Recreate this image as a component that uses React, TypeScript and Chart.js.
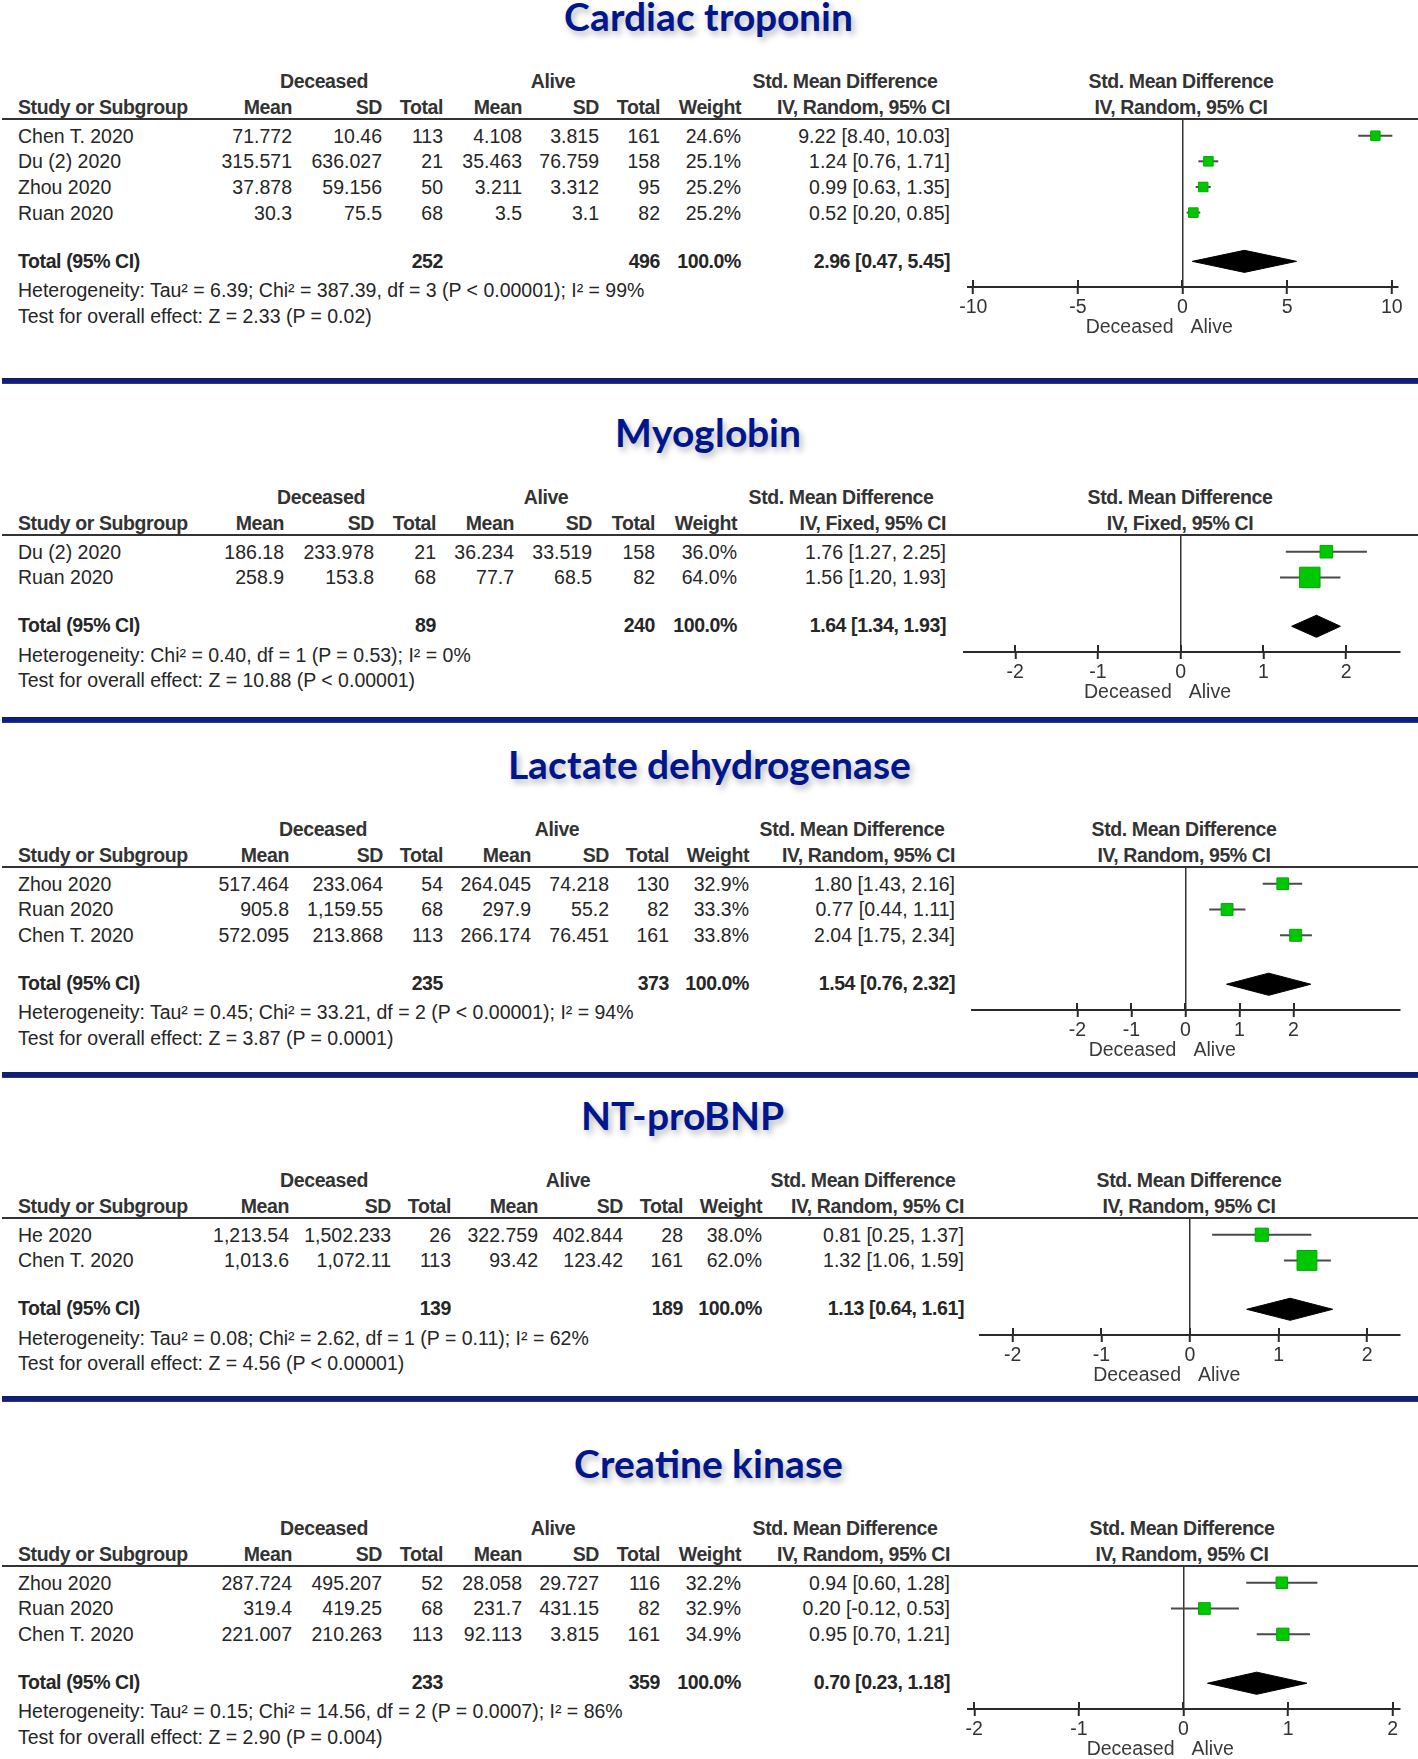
import React, { useEffect, useRef } from "react";
import { Chart, registerables } from "chart.js";

Chart.register(...registerables);

if (typeof document !== "undefined") {
  document.body.style.margin = "0";
  document.body.style.background = "#ffffff";
}

// ======================= DATA =======================
// Cardiac troponin
const CT_STUDY = ["Chen T. 2020", "Du (2) 2020", "Zhou 2020", "Ruan 2020"];
const CT_DEC_MEAN = ["71.772", "315.571", "37.878", "30.3"];
const CT_DEC_SD = ["10.46", "636.027", "59.156", "75.5"];
const CT_DEC_N = [113, 21, 50, 68];
const CT_ALV_MEAN = ["4.108", "35.463", "3.211", "3.5"];
const CT_ALV_SD = ["3.815", "76.759", "3.312", "3.1"];
const CT_ALV_N = [161, 158, 95, 82];
const CT_WEIGHT = [24.6, 25.1, 25.2, 25.2];
const CT_SMD = [9.22, 1.24, 0.99, 0.52];
const CT_LO = [8.4, 0.76, 0.63, 0.2];
const CT_HI = [10.03, 1.71, 1.35, 0.85];
const CT_TOTAL = [2.96, 0.47, 5.45];
const CT_TICKS = [-10, -5, 0, 5, 10];
const CT_HET = "Heterogeneity: Tau\u00b2 = 6.39; Chi\u00b2 = 387.39, df = 3 (P < 0.00001); I\u00b2 = 99%";
const CT_TEST = "Test for overall effect: Z = 2.33 (P = 0.02)";

// Myoglobin
const MY_STUDY = ["Du (2) 2020", "Ruan 2020"];
const MY_DEC_MEAN = ["186.18", "258.9"];
const MY_DEC_SD = ["233.978", "153.8"];
const MY_DEC_N = [21, 68];
const MY_ALV_MEAN = ["36.234", "77.7"];
const MY_ALV_SD = ["33.519", "68.5"];
const MY_ALV_N = [158, 82];
const MY_WEIGHT = [36.0, 64.0];
const MY_SMD = [1.76, 1.56];
const MY_LO = [1.27, 1.2];
const MY_HI = [2.25, 1.93];
const MY_TOTAL = [1.64, 1.34, 1.93];
const MY_TICKS = [-2, -1, 0, 1, 2];
const MY_HET = "Heterogeneity: Chi\u00b2 = 0.40, df = 1 (P = 0.53); I\u00b2 = 0%";
const MY_TEST = "Test for overall effect: Z = 10.88 (P < 0.00001)";

// Lactate dehydrogenase
const LD_STUDY = ["Zhou 2020", "Ruan 2020", "Chen T. 2020"];
const LD_DEC_MEAN = ["517.464", "905.8", "572.095"];
const LD_DEC_SD = ["233.064", "1,159.55", "213.868"];
const LD_DEC_N = [54, 68, 113];
const LD_ALV_MEAN = ["264.045", "297.9", "266.174"];
const LD_ALV_SD = ["74.218", "55.2", "76.451"];
const LD_ALV_N = [130, 82, 161];
const LD_WEIGHT = [32.9, 33.3, 33.8];
const LD_SMD = [1.8, 0.77, 2.04];
const LD_LO = [1.43, 0.44, 1.75];
const LD_HI = [2.16, 1.11, 2.34];
const LD_TOTAL = [1.54, 0.76, 2.32];
const LD_TICKS = [-2, -1, 0, 1, 2];
const LD_HET = "Heterogeneity: Tau\u00b2 = 0.45; Chi\u00b2 = 33.21, df = 2 (P < 0.00001); I\u00b2 = 94%";
const LD_TEST = "Test for overall effect: Z = 3.87 (P = 0.0001)";

// NT-proBNP
const NT_STUDY = ["He 2020", "Chen T. 2020"];
const NT_DEC_MEAN = ["1,213.54", "1,013.6"];
const NT_DEC_SD = ["1,502.233", "1,072.11"];
const NT_DEC_N = [26, 113];
const NT_ALV_MEAN = ["322.759", "93.42"];
const NT_ALV_SD = ["402.844", "123.42"];
const NT_ALV_N = [28, 161];
const NT_WEIGHT = [38.0, 62.0];
const NT_SMD = [0.81, 1.32];
const NT_LO = [0.25, 1.06];
const NT_HI = [1.37, 1.59];
const NT_TOTAL = [1.13, 0.64, 1.61];
const NT_TICKS = [-2, -1, 0, 1, 2];
const NT_HET = "Heterogeneity: Tau\u00b2 = 0.08; Chi\u00b2 = 2.62, df = 1 (P = 0.11); I\u00b2 = 62%";
const NT_TEST = "Test for overall effect: Z = 4.56 (P < 0.00001)";

// Creatine kinase
const CK_STUDY = ["Zhou 2020", "Ruan 2020", "Chen T. 2020"];
const CK_DEC_MEAN = ["287.724", "319.4", "221.007"];
const CK_DEC_SD = ["495.207", "419.25", "210.263"];
const CK_DEC_N = [52, 68, 113];
const CK_ALV_MEAN = ["28.058", "231.7", "92.113"];
const CK_ALV_SD = ["29.727", "431.15", "3.815"];
const CK_ALV_N = [116, 82, 161];
const CK_WEIGHT = [32.2, 32.9, 34.9];
const CK_SMD = [0.94, 0.2, 0.95];
const CK_LO = [0.6, -0.12, 0.7];
const CK_HI = [1.28, 0.53, 1.21];
const CK_TOTAL = [0.7, 0.23, 1.18];
const CK_TICKS = [-2, -1, 0, 1, 2];
const CK_HET = "Heterogeneity: Tau\u00b2 = 0.15; Chi\u00b2 = 14.56, df = 2 (P = 0.0007); I\u00b2 = 86%";
const CK_TEST = "Test for overall effect: Z = 2.90 (P = 0.004)";

const TITLES = ["Cardiac troponin", "Myoglobin", "Lactate dehydrogenase", "NT-proBNP", "Creatine kinase"];
const METHODS = ["IV, Random, 95% CI", "IV, Fixed, 95% CI", "IV, Random, 95% CI", "IV, Random, 95% CI", "IV, Random, 95% CI"];
const GROUP_LEFT = "Deceased";
const GROUP_RIGHT = "Alive";
const TOTAL_LABEL = "Total (95% CI)";
const TOTAL_WEIGHT = "100.0%";

// ======================= STYLE / LAYOUT =======================
const W = 1418;
const H = 1759;
const FONT = '"Liberation Sans", Arial, Helvetica, sans-serif';
const TITLE_FONT = '"TitleLato", Lato, "Open Sans", sans-serif';
const FS = 19.5;
const LH = 22;
const ROW_H = 25.7;
const TXT = "#262626";
const HEAD = "#333333";
const TITLE_COL = "#00168c";
const BAR_COL = "#0a1f8f";
const GREEN = "#00c800";
const GREEN_B = "#00a800";
const CI_COL = "#4a4a4a";
const AX_COL = "#2a2a2a";
const PAD = 24;
const XAX_H = 60;
const TICK_LEN = 7;
const DIAMOND_HALF = 0.43;

const FONT_FACE_CSS = `
@font-face {
  font-family: "TitleLato";
  src: local("Lato Bold"), local("Lato-Bold");
  font-weight: 700;
  ascent-override: 78%;
  descent-override: 20%;
  line-gap-override: 0%;
}
`;

interface Layout {
  lineY: number;
  titleX: number;
  cols: number[]; // right edges: mean, sd, total, mean, sd, total, weight, ci
  dec: number;
  alive: number;
  std: number;
  forest: number;
  axis: number[];
  range: number[];
}

const LAYOUTS: Layout[] = [
  { lineY: 119, titleX: 708, cols: [292, 382, 443, 522, 599, 660, 741, 950], dec: 324, alive: 553, std: 845, forest: 1181, axis: [968, 1398], range: [-10.25, 10.3] },
  { lineY: 535, titleX: 708, cols: [284, 374, 436, 514, 592, 655, 737, 946], dec: 321, alive: 546, std: 841, forest: 1180, axis: [964, 1400], range: [-2.62, 2.65] },
  { lineY: 867, titleX: 709, cols: [289, 383, 443, 531, 609, 669, 749, 955], dec: 323, alive: 557, std: 852, forest: 1184, axis: [972, 1400], range: [-3.95, 3.97] },
  { lineY: 1218, titleX: 682, cols: [289, 391, 451, 538, 623, 683, 762, 964], dec: 324, alive: 568, std: 863, forest: 1189, axis: [980, 1400], range: [-2.37, 2.37] },
  { lineY: 1566, titleX: 708, cols: [292, 382, 443, 522, 599, 660, 741, 950], dec: 324, alive: 553, std: 845, forest: 1182, axis: [968, 1400], range: [-2.06, 2.07] },
];
const SEPARATORS = [381, 720, 1074.5, 1398.5];

interface PanelData {
  study: string[];
  decMean: string[];
  decSd: string[];
  decN: number[];
  alvMean: string[];
  alvSd: string[];
  alvN: number[];
  weight: number[];
  smd: number[];
  lo: number[];
  hi: number[];
  total: number[];
  ticks: number[];
  het: string;
  test: string;
}

const PANELS: PanelData[] = [
  { study: CT_STUDY, decMean: CT_DEC_MEAN, decSd: CT_DEC_SD, decN: CT_DEC_N, alvMean: CT_ALV_MEAN, alvSd: CT_ALV_SD, alvN: CT_ALV_N, weight: CT_WEIGHT, smd: CT_SMD, lo: CT_LO, hi: CT_HI, total: CT_TOTAL, ticks: CT_TICKS, het: CT_HET, test: CT_TEST },
  { study: MY_STUDY, decMean: MY_DEC_MEAN, decSd: MY_DEC_SD, decN: MY_DEC_N, alvMean: MY_ALV_MEAN, alvSd: MY_ALV_SD, alvN: MY_ALV_N, weight: MY_WEIGHT, smd: MY_SMD, lo: MY_LO, hi: MY_HI, total: MY_TOTAL, ticks: MY_TICKS, het: MY_HET, test: MY_TEST },
  { study: LD_STUDY, decMean: LD_DEC_MEAN, decSd: LD_DEC_SD, decN: LD_DEC_N, alvMean: LD_ALV_MEAN, alvSd: LD_ALV_SD, alvN: LD_ALV_N, weight: LD_WEIGHT, smd: LD_SMD, lo: LD_LO, hi: LD_HI, total: LD_TOTAL, ticks: LD_TICKS, het: LD_HET, test: LD_TEST },
  { study: NT_STUDY, decMean: NT_DEC_MEAN, decSd: NT_DEC_SD, decN: NT_DEC_N, alvMean: NT_ALV_MEAN, alvSd: NT_ALV_SD, alvN: NT_ALV_N, weight: NT_WEIGHT, smd: NT_SMD, lo: NT_LO, hi: NT_HI, total: NT_TOTAL, ticks: NT_TICKS, het: NT_HET, test: NT_TEST },
  { study: CK_STUDY, decMean: CK_DEC_MEAN, decSd: CK_DEC_SD, decN: CK_DEC_N, alvMean: CK_ALV_MEAN, alvSd: CK_ALV_SD, alvN: CK_ALV_N, weight: CK_WEIGHT, smd: CK_SMD, lo: CK_LO, hi: CK_HI, total: CK_TOTAL, ticks: CK_TICKS, het: CK_HET, test: CK_TEST },
];

const f2 = (v: number) => v.toFixed(2);
const ciText = (e: number, lo: number, hi: number) => `${f2(e)} [${f2(lo)}, ${f2(hi)}]`;
const sum = (a: number[]) => a.reduce((s, v) => s + v, 0);

// ======================= COMPONENTS =======================
function Txt(props: { x: number; y: number; align?: "left" | "right" | "center"; bold?: boolean; color?: string; children: React.ReactNode }) {
  const { x, y, align = "left", bold = false, color = TXT, children } = props;
  const style: React.CSSProperties = {
    position: "absolute",
    top: y - LH / 2,
    lineHeight: LH + "px",
    fontSize: FS,
    fontFamily: FONT,
    fontWeight: bold ? 700 : 400,
    letterSpacing: bold ? "-0.4px" : "0px",
    color,
    whiteSpace: "nowrap",
  };
  if (align === "left") style.left = x;
  else if (align === "right") style.right = W - x;
  else {
    style.left = x;
    style.transform = "translateX(-50%)";
  }
  return <div style={style}>{children}</div>;
}

const crossTicks = {
  id: "crossTicks",
  afterDraw(chart: any) {
    const { ctx, chartArea } = chart;
    const xs = chart.scales.x;
    ctx.save();
    ctx.strokeStyle = AX_COL;
    ctx.lineWidth = 2;
    xs.ticks.forEach((t: any) => {
      const px = Math.round(xs.getPixelForValue(t.value));
      ctx.beginPath();
      ctx.moveTo(px, chartArea.bottom - TICK_LEN);
      ctx.lineTo(px, chartArea.bottom);
      ctx.stroke();
    });
    const x0 = xs.getPixelForValue(0);
    const y = chartArea.bottom + 41;
    ctx.font = `19.5px ${FONT}`;
    ctx.fillStyle = "#3a3a3a";
    ctx.textBaseline = "middle";
    ctx.textAlign = "right";
    ctx.fillText(GROUP_LEFT, x0 - 9, y);
    ctx.textAlign = "left";
    ctx.fillText(GROUP_RIGHT, x0 + 8, y);
    ctx.restore();
  },
};

function Forest({ p, L }: { p: PanelData; L: Layout }) {
  const ref = useRef<HTMLCanvasElement | null>(null);
  const n = p.smd.length;
  const chartH = (n + 2.55) * ROW_H;
  const cw = L.axis[1] - L.axis[0] + 2 * PAD;
  const ch = Math.round(chartH + XAX_H);

  useEffect(() => {
    if (!ref.current) return;
    const datasets: any[] = [];
    datasets.push({
      type: "scatter",
      data: p.smd.map((v, i) => ({ x: v, y: i })),
      pointStyle: "rect",
      pointRadius: p.weight.map((w) => (2.5 + 0.28 * w) / Math.SQRT2),
      backgroundColor: GREEN,
      borderColor: GREEN_B,
      borderWidth: 1,
      order: 0,
    });
    p.lo.forEach((lo, i) => {
      datasets.push({
        type: "line",
        data: [
          { x: lo, y: i },
          { x: p.hi[i], y: i },
        ],
        borderColor: CI_COL,
        borderWidth: 2,
        pointRadius: 0,
        fill: false,
        order: 1,
      });
    });
    const t = n + 0.9;
    const [e, tl, th] = p.total;
    datasets.push({
      type: "line",
      data: [
        { x: tl, y: t },
        { x: e, y: t - DIAMOND_HALF },
        { x: th, y: t },
        { x: e, y: t + DIAMOND_HALF },
        { x: tl, y: t },
      ],
      borderColor: "#000",
      backgroundColor: "#000",
      borderWidth: 1,
      pointRadius: 0,
      tension: 0,
      fill: "shape",
      order: 2,
    });

    const chart = new Chart(ref.current, {
      type: "scatter",
      data: { datasets },
      options: {
        responsive: false,
        maintainAspectRatio: false,
        animation: false,
        events: [],
        layout: { padding: { left: PAD, right: PAD, top: 0, bottom: 0 }, autoPadding: false },
        plugins: { legend: { display: false }, tooltip: { enabled: false }, title: { display: false } },
        scales: {
          x: {
            type: "linear",
            min: L.range[0],
            max: L.range[1],
            afterBuildTicks: (s: any) => {
              s.ticks = p.ticks.map((v) => ({ value: v }));
            },
            afterFit: (s: any) => {
              s.height = XAX_H;
            },
            border: { display: true, color: AX_COL, width: 2 },
            grid: {
              drawOnChartArea: true,
              drawTicks: true,
              tickLength: TICK_LEN,
              tickWidth: 2,
              tickColor: AX_COL,
              lineWidth: 1.5,
              color: (c: any) => (c.tick && c.tick.value === 0 ? "#333333" : "rgba(0,0,0,0)"),
            },
            ticks: {
              font: { family: FONT, size: 19.5 },
              color: "#333333",
              padding: 2,
              maxRotation: 0,
              autoSkip: false,
            },
          },
          y: { type: "linear", display: false, min: -0.65, max: n + 1.9, reverse: true },
        },
      } as any,
      plugins: [crossTicks],
    });
    return () => chart.destroy();
  }, []);

  return (
    <canvas
      ref={ref}
      width={cw}
      height={ch}
      style={{ position: "absolute", left: L.axis[0] - PAD, top: L.lineY, width: cw, height: ch }}
    />
  );
}

function Panel({ p, L, title, method }: { p: PanelData; L: Layout; title: string; method: string }) {
  const y0 = L.lineY;
  const n = p.study.length;
  const rowY = (i: number) => y0 + (0.65 + i) * ROW_H;
  const totY = rowY(n + 0.9) - 1;
  const c = L.cols;
  return (
    <>
      <div
        style={{
          position: "absolute",
          left: L.titleX,
          top: y0 - 118,
          transform: "translateX(-50%)",
          fontFamily: TITLE_FONT,
          fontWeight: 700,
          fontSize: 39,
          lineHeight: "38px",
          color: TITLE_COL,
          whiteSpace: "nowrap",
          textShadow: "3px 4px 6px rgba(0,0,0,0.28)",
        }}
      >
        {title}
      </div>
      {/* header rows */}
      <Txt x={L.dec} y={y0 - 38} align="center" bold color={HEAD}>{GROUP_LEFT}</Txt>
      <Txt x={L.alive} y={y0 - 38} align="center" bold color={HEAD}>{GROUP_RIGHT}</Txt>
      <Txt x={L.std} y={y0 - 38} align="center" bold color={HEAD}>Std. Mean Difference</Txt>
      <Txt x={L.forest} y={y0 - 38} align="center" bold color={HEAD}>Std. Mean Difference</Txt>
      <Txt x={18} y={y0 - 12} bold color={HEAD}>Study or Subgroup</Txt>
      <Txt x={c[0]} y={y0 - 12} align="right" bold color={HEAD}>Mean</Txt>
      <Txt x={c[1]} y={y0 - 12} align="right" bold color={HEAD}>SD</Txt>
      <Txt x={c[2]} y={y0 - 12} align="right" bold color={HEAD}>Total</Txt>
      <Txt x={c[3]} y={y0 - 12} align="right" bold color={HEAD}>Mean</Txt>
      <Txt x={c[4]} y={y0 - 12} align="right" bold color={HEAD}>SD</Txt>
      <Txt x={c[5]} y={y0 - 12} align="right" bold color={HEAD}>Total</Txt>
      <Txt x={c[6]} y={y0 - 12} align="right" bold color={HEAD}>Weight</Txt>
      <Txt x={c[7]} y={y0 - 12} align="right" bold color={HEAD}>{method}</Txt>
      <Txt x={L.forest} y={y0 - 12} align="center" bold color={HEAD}>{method}</Txt>
      <div style={{ position: "absolute", left: 2, top: y0 - 1, width: W - 2, height: 2, background: "#333" }} />
      {/* study rows */}
      {p.study.map((s, i) => (
        <React.Fragment key={i}>
          <Txt x={18} y={rowY(i)}>{s}</Txt>
          <Txt x={c[0]} y={rowY(i)} align="right">{p.decMean[i]}</Txt>
          <Txt x={c[1]} y={rowY(i)} align="right">{p.decSd[i]}</Txt>
          <Txt x={c[2]} y={rowY(i)} align="right">{p.decN[i]}</Txt>
          <Txt x={c[3]} y={rowY(i)} align="right">{p.alvMean[i]}</Txt>
          <Txt x={c[4]} y={rowY(i)} align="right">{p.alvSd[i]}</Txt>
          <Txt x={c[5]} y={rowY(i)} align="right">{p.alvN[i]}</Txt>
          <Txt x={c[6]} y={rowY(i)} align="right">{p.weight[i].toFixed(1) + "%"}</Txt>
          <Txt x={c[7]} y={rowY(i)} align="right">{ciText(p.smd[i], p.lo[i], p.hi[i])}</Txt>
        </React.Fragment>
      ))}
      {/* total */}
      <Txt x={18} y={totY} bold>{TOTAL_LABEL}</Txt>
      <Txt x={c[2]} y={totY} align="right" bold>{sum(p.decN)}</Txt>
      <Txt x={c[5]} y={totY} align="right" bold>{sum(p.alvN)}</Txt>
      <Txt x={c[6]} y={totY} align="right" bold>{TOTAL_WEIGHT}</Txt>
      <Txt x={c[7]} y={totY} align="right" bold>{ciText(p.total[0], p.total[1], p.total[2])}</Txt>
      <Txt x={18} y={totY + 29.5}>{p.het}</Txt>
      <Txt x={18} y={totY + 55}>{p.test}</Txt>
      <Forest p={p} L={L} />
    </>
  );
}

export default function App() {
  useEffect(() => {
    document.body.style.margin = "0";
  }, []);
  return (
    <div style={{ position: "relative", width: W, height: H, overflow: "hidden", background: "#fff" }}>
      <style>{FONT_FACE_CSS}</style>
      {PANELS.map((p, i) => (
        <Panel key={i} p={p} L={LAYOUTS[i]} title={TITLES[i]} method={METHODS[i]} />
      ))}
      {SEPARATORS.map((y, i) => (
        <div
          key={i}
          style={{
            position: "absolute",
            left: 2,
            top: y - 3,
            width: W - 2,
            height: 4,
            background: BAR_COL,
            borderTop: "1px solid #1e1e3a",
            borderBottom: "1px solid #3a3a55",
          }}
        />
      ))}
    </div>
  );
}
